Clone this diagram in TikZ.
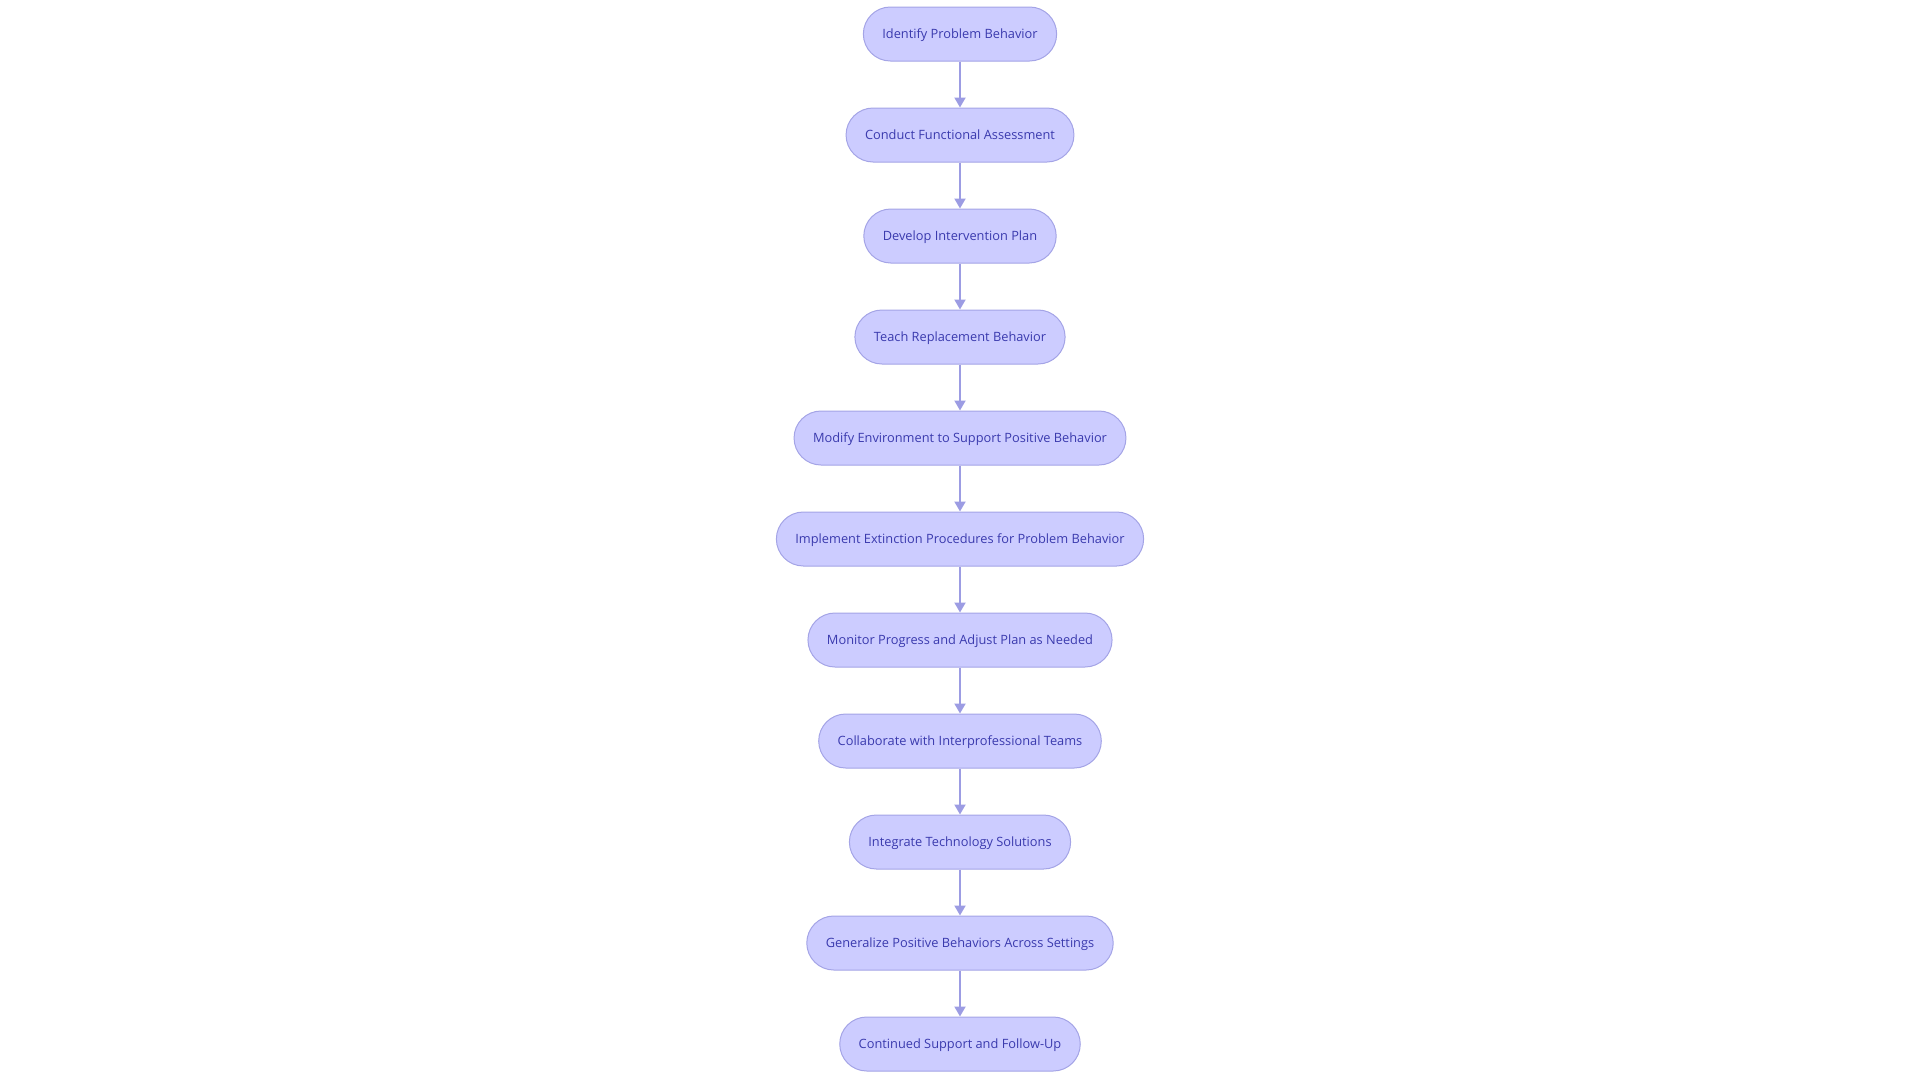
\documentclass[tikz,border=0pt]{standalone}
\usepackage{fontspec}
\setmainfont{Open Sans}
\usetikzlibrary{positioning,arrows.meta}

\definecolor{boxfill}{HTML}{CCCCFF}
\definecolor{boxline}{HTML}{A4A4E6}
\definecolor{boxtext}{HTML}{3A3AAE}
\definecolor{linkline}{HTML}{9C9CE3}

\tikzset{
  stepbox/.style={draw=boxline, fill=boxfill, line width=1pt, rounded corners=27pt,
    minimum height=54pt, inner xsep=19pt, text=boxtext, text height=9pt, text depth=0.5pt,
    font=\fontsize{12.8}{15}\selectfont},
  link/.style={draw=linkline, line width=2pt, -{Triangle[length=10pt, width=11pt]}}
}

\begin{document}
\begin{tikzpicture}[x=1pt, y=1pt]
            \useasboundingbox (0, 0) rectangle (1920, -1080);

            % steps
            \node[stepbox] (identify) at (960, -34) {Identify Problem Behavior};
            \node[stepbox, below=46pt of identify] (assess) {Conduct Functional Assessment};
            \node[stepbox, below=46pt of assess] (plan) {Develop Intervention Plan};
            \node[stepbox, below=46pt of plan] (teach) {Teach Replacement Behavior};
            \node[stepbox, below=46pt of teach] (modify) {Modify Environment to Support Positive Behavior};
            \node[stepbox, below=46pt of modify] (extinct) {Implement Extinction Procedures for Problem Behavior};
            \node[stepbox, below=46pt of extinct] (monitor) {Monitor Progress and Adjust Plan as Needed};
            \node[stepbox, below=46pt of monitor] (collab) {Collaborate with Interprofessional Teams};
            \node[stepbox, below=46pt of collab] (tech) {Integrate Technology Solutions};
            \node[stepbox, below=46pt of tech] (general) {Generalize Positive Behaviors Across Settings};
            \node[stepbox, below=46pt of general] (support) {Continued Support and Follow-Up};

            % arrows
            \foreach \a/\b in {identify/assess, assess/plan, plan/teach, teach/modify,
              modify/extinct, extinct/monitor, monitor/collab, collab/tech,
              tech/general, general/support}
              \draw[link] (\a) -- (\b);

        \end{tikzpicture}
\end{document}
